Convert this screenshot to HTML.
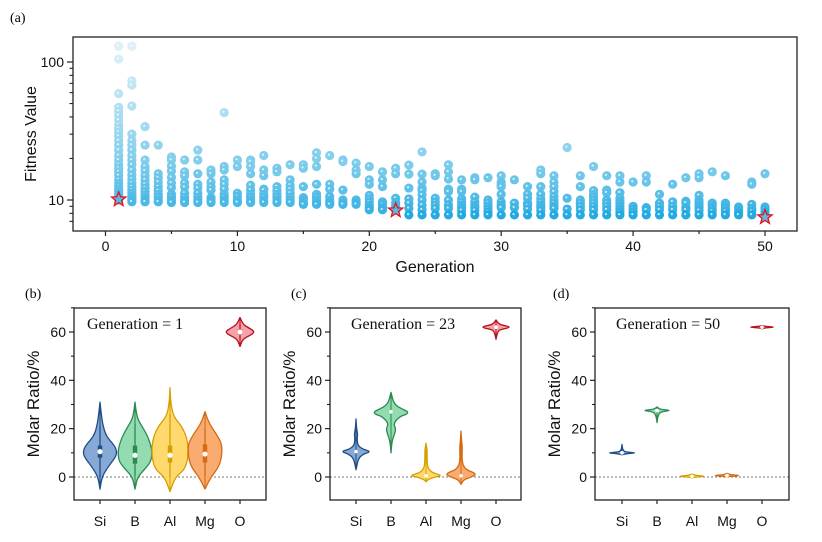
<!DOCTYPE html>
<html><head><meta charset="utf-8"><style>
html,body{margin:0;padding:0;background:#fff;}
svg{display:block;font-family:"Liberation Sans",sans-serif;}
.serif{font-family:"Liberation Serif",serif;}
</style></head><body>
<svg id="fig" width="822" height="542" viewBox="0 0 822 542" xmlns="http://www.w3.org/2000/svg">
<g id="top"></g>
<g id="pb"></g>
<g id="pc"></g>
<g id="pd"></g>
</svg>
<script>
// ---------- Top chart data ----------
const generations = [1,2,3,4,5,6,7,8,9,10,11,12,13,14,15,16,17,18,19,20,21,22,23,24,25,26,27,28,29,30,31,32,33,34,35,36,37,38,39,40,41,42,43,44,45,46,47,48,49,50];
const fitnessValues = [
[10,10.3,10.6,11,11.5,12,12.6,13.2,14,15,16,17,18,19.5,21,23,25,27,29,31,33,35,38,41,44,47,59,105,130],
[9.7,10,10.3,10.7,11.2,11.8,12.5,13.3,14.2,15.2,16.5,18,19.5,21,23,25,27,30,48,68,73,130],
[9.7,10,10.4,10.9,11.5,12.2,13,14,15,16.3,17.5,19.5,25,34],
[9.7,10,10.5,11,11.7,12.5,13.5,14.5,15.5,25],
[9.6,10,10.5,11,12.3,13.3,14.6,16.2,17.6,19.5,20.5],
[9.6,10,10.5,11.2,12.4,13.3,15,16,19.5],
[9.6,10,10.5,11.2,12.2,13,15.5,19.5,23],
[9.6,10,10.4,11.8,12.5,13.5,15.5,16.5],
[9.6,10,10.5,11,12,13,14,16.5,17.5,43],
[9.6,10,10.6,11.2,17.5,19.5],
[9.6,10,10.5,11,11.8,12.8,15.5,17.5,19,19.5],
[9.6,10,10.5,11,11.8,12,15,16.5,21],
[9.6,10,10.5,11,11.7,12.5,16,17],
[9.6,10,10.5,11.2,12,12.8,14,18],
[9.3,9.6,10,10.4,12.5,17,18],
[9.3,9.6,10,10.5,11,13,17.5,20,22],
[9.3,9.6,10,10.6,12,13,21],
[9.3,9.6,10,11.8,19,19.5],
[9.3,9.6,10,15.5,16.5,18.5],
[8.5,8.8,9.2,9.7,10.2,10.8,13,14,17.5],
[8.5,8.8,9.3,9.7,12.5,14,16],
[8.5,8.8,9.2,9.6,10.3,15.5,17],
[7.8,8.7,9.5,10.2,12.2,15.4,17.9],
[7.8,8.5,9.2,10,10.9,11.7,12.2,13.5,15.4,22.3],
[7.8,8.7,9.2,9.7,10.3,15,15.5],
[7.8,8.7,9.2,10,11.5,12,14.2,16,18],
[7.8,8.4,8.8,9.2,9.7,10.2,11.5,12,14],
[7.8,8.4,8.8,9.2,9.7,10.5,14,14.5],
[7.8,8.2,8.6,9,9.5,10,14.5],
[7.8,8.8,9.2,9.7,11,12.5,13,13.5,15],
[7.8,8.8,9.5,14],
[7.8,8.6,9.1,9.5,10.3,11,12.5],
[7.8,8.4,8.8,9.2,9.7,10.2,11,12.5,15.5,16.5],
[7.8,8.7,9,9.5,10,10.6,11.5,12.5,13.5,15],
[7.8,8.6,10.3,24],
[7.8,8.5,9,9.5,10,12.5,15],
[7.8,8.5,9,9.5,10,10.5,11,11.7,17.5],
[7.8,8.5,9,9.5,10,11.3,11.8,15],
[7.8,8.2,8.6,9,9.4,9.8,10.3,11.3,13.5,15],
[7.8,8.2,8.6,9,13.5],
[7.8,8.5,8.8,13.5,15],
[7.8,8.5,9,9.5,11],
[7.8,8.5,9,9.7,13],
[7.8,8.5,8.8,9.5,9.8,14.5],
[7.8,8.4,8.8,9.2,9.6,10,10.8,14.5,15.5],
[7.8,8.3,8.7,9.1,9.5,16],
[7.8,8.3,8.7,9.1,9.5,15],
[7.8,8.1,8.5,8.9],
[7.8,8.3,8.7,9.3,13,13.5],
[7.8,8.2,8.6,8.9,15.5]
];
const bestGens = [1,22,50];
const bestValues = [10.1,8.4,7.5];
const xTicks = [0,10,20,30,40,50];
const xMinorTicks = [5,15,25,35,45];
const yTicks = [10,100];
const yMinorTicks = [7,8,9,20,30,40,50,60,70,80,90];

// ---------- Violin data ----------
const elements = ["Si","B","Al","Mg","O"];
const fills = ["#86a9d6","#93dbb0","#ffd86e","#f9ab70","#f5a3aa"];
const strokes = ["#1f4e85","#2a8a50","#d4a000","#d56a10","#b8101a"];
const vTicks = [0,20,40,60];
const vMinorTicks = [-10,10,30,50,70];
// panel b (Generation 1)
const bYs = [[-5,0,4,8,10.5,13,17,22,27,31],[-5,0,3,6,9,12,16,20,24,28,31],[-6,0,3,7,10,13,17,21,25,30,37],[-5,0,4,8,11,14,18,22,27],[54,57,58.5,60,61.5,63,66]];
const bDens = [[0,0.12,0.45,0.9,1,0.85,0.35,0.15,0.06,0],[0,0.15,0.55,0.9,1,0.97,0.8,0.5,0.15,0.05,0],[0,0.3,0.8,0.97,1,1,0.9,0.65,0.2,0.05,0],[0,0.35,0.8,0.97,1,0.97,0.65,0.25,0],[0,0.18,0.65,1,0.65,0.22,0]];
const bMedian = [10.5,9,9,9.5,60];
const bQ1 = [8,5.5,6,6,59];
const bQ3 = [13,13,13,13.5,61];
const bWlo = [0,0.5,0,0.5,57];
const bWhi = [21,22,26,20,63];
// panel c (Generation 23)
const cYs = [[3,6,8,9.5,10.5,11.5,13,16,17.5,20,24],[10,15,18,20,22,25,26,27,28,30,35],[-2,-1,0,0.5,1,2,4,8,11,14],[-3,-1,0,1,2,3,5,8,12,15,19],[57,60,61,62,63,64,65]];
const cDens = [[0,0.1,0.2,0.5,1,0.45,0.12,0.07,0.12,0.04,0],[0,0.06,0.22,0.28,0.14,0.5,0.95,1,0.7,0.18,0],[0,0.15,0.6,1,0.85,0.35,0.1,0.07,0.08,0],[0,0.2,0.7,1,0.8,0.35,0.12,0.06,0.09,0.04,0],[0,0.1,0.25,1,0.25,0.1,0]];
const cMedian = [10.5,27,0.5,0.5,62];
// panel d (Generation 50)
const dYs = [[9.2,9.7,10,10.3,11,13.5],[22.5,25,27,27.5,28,29],[-0.3,0,0.3,0.6,1.2],[0,0.3,0.6,0.9,1.5],[61.3,61.7,62,62.3,62.7]];
const dDens = [[0,0.3,1,0.3,0.05,0],[0,0.05,0.2,1,0.2,0],[0,0.3,1,0.3,0],[0,0.3,1,0.3,0],[0,0.2,1,0.2,0]];
const dMedian = [10,27.5,0.3,0.6,62];

const NS="http://www.w3.org/2000/svg";
function mk(parent,tag,attrs,txt){const e=document.createElementNS(NS,tag);for(const k in attrs)e.setAttribute(k,attrs[k]);if(txt!==undefined)e.textContent=txt;parent.appendChild(e);return e;}

// ---------- Top chart ----------
(function(){
const g=document.getElementById('top');
const L=73,R=797,T=37,B=231;
const xS=v=>105.5+v*13.19;
const yS=v=>200-(Math.log10(v)-1)*138;
let t=mk(g,'text',{x:10,y:22,'font-size':14,class:'serif'},'(a)');


const lo=Math.log10(7.8),hi=Math.log10(130);
fitnessValues.forEach((arr,i)=>{
  const gen=generations[i];
  arr.slice().sort((a,b)=>b-a).forEach(v=>{
    let tt=Math.max(0,Math.min(1,(Math.log10(v)-lo)/(hi-lo)));
    tt=Math.pow(tt,0.6);
    const r=Math.round(35+tt*(222-35)),gg=Math.round(170+tt*(240-170)),b=Math.round(225+tt*(246-225));
    const c=mk(g,'circle',{cx:xS(gen),cy:yS(v),r:4.6,fill:`rgb(${r},${gg},${b})`});
    
    
    mk(g,'circle',{cx:xS(gen)-0.8,cy:yS(v)-0.8,r:1.1,fill:'#fff','fill-opacity':0.75});
  });
});
bestGens.forEach((gen,i)=>{
  const cx=xS(gen),cy=yS(bestValues[i]);let pts=[];
  for(let k=0;k<10;k++){const a=-Math.PI/2+k*Math.PI/5;const rr=k%2?3.2:7.5;pts.push((cx+rr*Math.cos(a)).toFixed(1)+','+(cy+rr*Math.sin(a)).toFixed(1));}
  const s=mk(g,'polygon',{points:pts.join(' '),fill:'#5ab8e2',stroke:'#e8101a','stroke-width':1.3});
  
  
});
const box=mk(g,'rect',{x:L,y:T,width:R-L,height:B-T,fill:'none',stroke:'#222','stroke-width':1.3});


xTicks.forEach(v=>{mk(g,'line',{x1:xS(v),x2:xS(v),y1:B,y2:B+5,stroke:'#222','stroke-width':1.2});
  const l=mk(g,'text',{x:xS(v),y:B+20,'font-size':14,'text-anchor':'middle',fill:'#111'},v);
  
  });
xMinorTicks.forEach(v=>mk(g,'line',{x1:xS(v),x2:xS(v),y1:B,y2:B+3,stroke:'#222','stroke-width':1.2}));
yTicks.forEach(v=>{mk(g,'line',{x1:L-6,x2:L,y1:yS(v),y2:yS(v),stroke:'#222','stroke-width':1.2});
  const l=mk(g,'text',{x:L-9,y:yS(v)+5,'font-size':14,'text-anchor':'end',fill:'#111'},v);
  
  });
yMinorTicks.forEach(v=>mk(g,'line',{x1:L-3.5,x2:L,y1:yS(v),y2:yS(v),stroke:'#222','stroke-width':1.1}));
let xt=mk(g,'text',{x:435,y:272,'font-size':16,'text-anchor':'middle',fill:'#111'},'Generation');


let yt=mk(g,'text',{x:0,y:0,'font-size':16,'text-anchor':'middle',fill:'#111',transform:'translate(36,134) rotate(-90)'},'Fitness Value');


})();

// ---------- Violin panels ----------
function panel(id,L,R,x0,label,labelX,genText,genX,ys,dens,med,maxHalf,q1,q3,wlo,whi){
  const g=document.getElementById(id);
  const T=308,B=500;
  const yS=v=>477-v*2.417;
  const xS=i=>x0+i*35;
  let t=mk(g,'text',{x:labelX,y:298,'font-size':14,class:'serif'},label);
  
  
  mk(g,'line',{x1:L,x2:R,y1:yS(0),y2:yS(0),stroke:'#777','stroke-width':1,'stroke-dasharray':'2,2'});
  elements.forEach((el,i)=>{
    const cx=xS(i);const Y=ys[i],D=dens[i];
    let right=Y.map((v,k)=>[cx+D[k]*maxHalf[i],yS(v)]);
    let left=Y.map((v,k)=>[cx-D[k]*maxHalf[i],yS(v)]).reverse();
    const pts=right.concat(left);
    let d='M'+pts[0][0].toFixed(1)+','+pts[0][1].toFixed(1);
    for(let k=1;k<pts.length;k++){const p0=pts[k-1],p1=pts[k];const my=(p0[1]+p1[1])/2;d+=` Q${p0[0].toFixed(1)},${p0[1].toFixed(1)} ${((p0[0]+p1[0])/2).toFixed(1)},${my.toFixed(1)}`;}
    d+=` L${pts[pts.length-1][0].toFixed(1)},${pts[pts.length-1][1].toFixed(1)} Z`;
    const p=mk(g,'path',{d:d,fill:fills[i],stroke:strokes[i],'stroke-width':1.3,'stroke-linejoin':'round'});
    
    
    mk(g,'line',{x1:cx,x2:cx,y1:yS(Y[0]),y2:yS(Y[Y.length-1]),stroke:strokes[i],'stroke-width':1});
    if(q1){mk(g,'line',{x1:cx,x2:cx,y1:yS(wlo[i]),y2:yS(whi[i]),stroke:strokes[i],'stroke-width':1.3});
      mk(g,'rect',{x:cx-2.2,y:yS(q3[i]),width:4.4,height:yS(q1[i])-yS(q3[i]),fill:strokes[i]});}
    mk(g,'circle',{cx:cx,cy:yS(med[i]),r:q1?2.6:1.8,fill:'#fff'});
    const l=mk(g,'text',{x:cx,y:526,'font-size':14,'text-anchor':'middle',fill:'#111'},el);
    
    
    mk(g,'line',{x1:cx,x2:cx,y1:B,y2:B+4,stroke:'#222','stroke-width':1.2});
  });
  const box=mk(g,'rect',{x:L,y:T,width:R-L,height:B-T,fill:'none',stroke:'#222','stroke-width':1.3});
  
  
  vTicks.forEach(v=>{mk(g,'line',{x1:L-5,x2:L,y1:yS(v),y2:yS(v),stroke:'#222','stroke-width':1.2});
    const l=mk(g,'text',{x:L-8,y:yS(v)+5,'font-size':14,'text-anchor':'end',fill:'#111'},v);
    
    });
  vMinorTicks.forEach(v=>{if(yS(v)>=T-1&&yS(v)<=B+1)mk(g,'line',{x1:L-3,x2:L,y1:yS(v),y2:yS(v),stroke:'#222','stroke-width':1.1});});
  const gt=mk(g,'text',{x:genX,y:329,'font-size':16,class:'serif',fill:'#111'},genText);
  
  
  const yt=mk(g,'text',{x:0,y:0,'font-size':17,'text-anchor':'middle',fill:'#111',transform:`translate(${L-35},404) rotate(-90)`},'Molar Ratio/%');
  
  
}
panel('pb',74,266,100,'(b)',25,'Generation = 1',87,bYs,bDens,bMedian,[17,17,18,17,15],bQ1,bQ3,bWlo,bWhi);
panel('pc',330,521,356,'(c)',291,'Generation = 23',351,cYs,cDens,cMedian,[15,17,15,15,16]);
panel('pd',595,789,622,'(d)',553,'Generation = 50',616,dYs,dDens,dMedian,[15,15,14,14,14]);
</script>
</body></html>
